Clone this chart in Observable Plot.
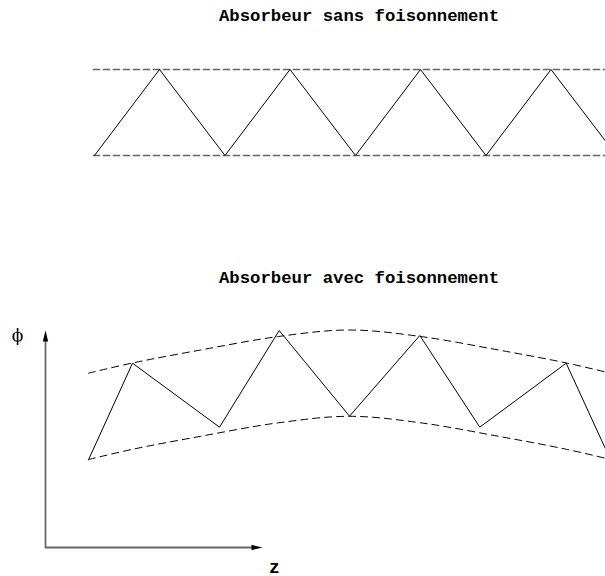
<!DOCTYPE html>
<html><head><meta charset="utf-8">
<script src="https://cdn.jsdelivr.net/npm/d3@7"></script>
<script src="https://cdn.jsdelivr.net/npm/@observablehq/plot@0.6"></script>
<style>html,body{margin:0;padding:0;background:#fff;overflow:hidden}</style>
</head><body><div id="chart"></div>
<script>
// Panel titles and axis labels
const titles = ["Absorbeur sans foisonnement", "Absorbeur avec foisonnement"];
const titleX = [358.5, 358.5];
const titleY = [20.5, 282];
const axisLabels = ["\u03D5", "z"];
const axisLabelX = [17, 274];
const axisLabelY = [335.5, 572];

// Top panel: constant bounds and zigzag
const topBoundY = [69, 155];
const topBoundX0 = 93, topBoundX1 = 616;
const topZigX = [94, 159, 224.5, 289.5, 355, 420, 485.5, 550.5, 616];
const topZigY = [155, 69, 155, 69, 155, 69, 155, 69, 155];

// Bottom panel: curved bounds (swelling) and zigzag
const arcX = [88, 132, 200, 278, 349, 420, 498, 566, 610];
const arcUpperY = [372.7, 362.5, 349.5, 336, 329.5, 336, 349.5, 362.5, 372.7];
const arcLowerY = [459, 448.8, 435.8, 422.3, 415.8, 422.3, 435.8, 448.8, 459];
const botZigX = [88, 132, 219, 278.7, 349, 419.3, 479.3, 565.7, 610];
const botZigY = [459.3, 362.7, 426.7, 330, 415.7, 335, 426.7, 362.7, 459.3];

// Axes (phi vs z)
const axisPathX = [45, 45, 251];
const axisPathY = [340, 547, 547];
const arrowTipX = [45, 262];
const arrowTipY = [330, 547];
const arrowRotate = [0, 90];

const zip = (xs, ys) => xs.map((x, i) => ({x, y: ys[i]}));
const topZig = zip(topZigX, topZigY);
const topBounds = topBoundY.flatMap((y, k) => [{x: topBoundX0, y, k}, {x: topBoundX1, y, k}]);
const upper = zip(arcX, arcUpperY);
const lower = zip(arcX, arcLowerY);
const botZig = zip(botZigX, botZigY);
const axisPath = zip(axisPathX, axisPathY);
const tips = arrowTipX.map((x, i) => ({x, y: arrowTipY[i], r: arrowRotate[i]}));
const titleData = titles.map((t, i) => ({t, x: titleX[i], y: titleY[i]}));
const labelData = axisLabels.map((t, i) => ({t, x: axisLabelX[i], y: axisLabelY[i]}));

const triangle = {
  draw(context, l, r) {
    context.moveTo(0, -l);
    context.lineTo(r, 0);
    context.lineTo(-r, 0);
    context.closePath();
  }
};

const chart = Plot.plot({
  width: 605, height: 576,
  margin: 0,
  x: {domain: [0, 605], range: [0, 605], axis: null},
  y: {domain: [0, 576], range: [0, 576], axis: null},
  style: {background: "#fff", overflow: "hidden"},
  marks: [
    Plot.line(topBounds, {x: "x", y: "y", z: "k", stroke: "#666", strokeWidth: 1.7, strokeDasharray: "6,4", clip: true}),
    Plot.line(topZig, {x: "x", y: "y", stroke: "black", strokeWidth: 1, clip: true}),
    Plot.line(upper, {x: "x", y: "y", curve: "catmull-rom", stroke: "black", strokeWidth: 1, strokeDasharray: "7,5", clip: true}),
    Plot.line(lower, {x: "x", y: "y", curve: "catmull-rom", stroke: "black", strokeWidth: 1, strokeDasharray: "7,5", clip: true}),
    Plot.line(botZig, {x: "x", y: "y", stroke: "black", strokeWidth: 1, clip: true}),
    Plot.line(axisPath, {x: "x", y: "y", stroke: "#666", strokeWidth: 1.8}),
    Plot.vector(tips, {x: "x", y: "y", rotate: "r", length: 11, anchor: "end", shape: triangle, r: 2.7, fill: "black", stroke: "none"}),
    Plot.text(titleData, {x: "x", y: "y", text: "t", lineAnchor: "bottom", fontFamily: "Liberation Mono", fontWeight: "bold", fontSize: 17.3, fill: "black"}),
    Plot.text(labelData.slice(0, 1), {x: "x", y: "y", text: "t", fontFamily: "DejaVu Serif", fontSize: 17, fill: "black"}),
    Plot.text(labelData.slice(1), {x: "x", y: "y", text: "t", lineAnchor: "bottom", fontFamily: "Liberation Mono", fontWeight: "bold", fontSize: 18, fill: "black"})
  ]
});
document.getElementById("chart").appendChild(chart);
</script>
</body></html>
